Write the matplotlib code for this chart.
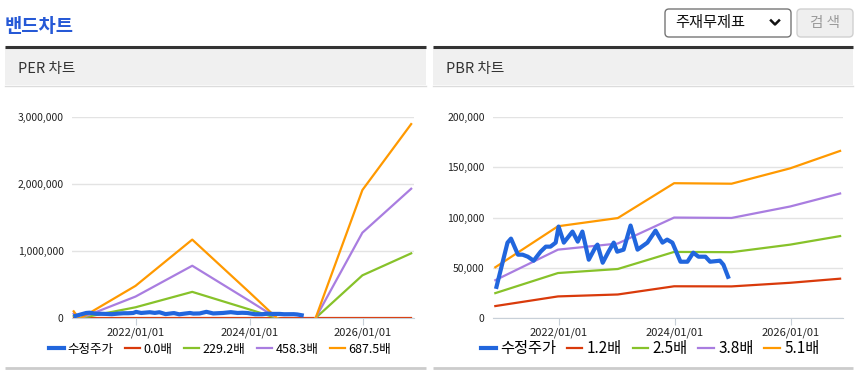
import matplotlib.pyplot as plt
from matplotlib.patches import Rectangle, FancyBboxPatch
from matplotlib.ticker import FuncFormatter

plt.rcParams['font.family'] = ['Noto Sans CJK KR', 'DejaVu Sans']

# price series (decimal year, won)
price_t = [2020.93, 2021.12, 2021.18, 2021.30, 2021.38, 2021.47, 2021.57, 2021.69,
           2021.78, 2021.86, 2021.95, 2022.00, 2022.09, 2022.24, 2022.33, 2022.41,
           2022.52, 2022.64, 2022.67, 2022.76, 2022.86, 2022.95, 2023.01, 2023.12,
           2023.24, 2023.36, 2023.53, 2023.67, 2023.79, 2023.87, 2023.96, 2024.10,
           2024.22, 2024.32, 2024.41, 2024.53, 2024.61, 2024.78, 2024.84, 2024.92]
price = [31000, 75000, 79000, 63000, 63000, 61000, 57000, 66000,
         71000, 71000, 75000, 91000, 75000, 86000, 76000, 86000,
         58000, 71000, 73000, 55000, 66000, 75000, 66000, 68000,
         92000, 68000, 75000, 87000, 75000, 78000, 75000, 56000,
         56000, 65000, 61000, 61000, 56000, 57000, 53000, 41000]

# PER band: EPS per period and multiples
per_t = [2020.90, 2021.00, 2021.99, 2022.99, 2023.99, 2024.99, 2025.99, 2026.85]
eps = [145, -20, 698, 1702, 567, -590, 2778, 4210]
per_mult = [0.0, 229.2, 458.3, 687.5]

# PBR band: BPS per period and multiples
pbr_t = [2020.91, 2021.99, 2023.02, 2023.99, 2024.98, 2025.99, 2026.85]
bps = [9900, 17900, 19500, 26300, 26200, 29200, 32600]
pbr_mult = [1.2, 2.5, 3.8, 5.1]

band_colors = ['#d93a0b', '#87c22a', '#a97de0', '#ff9900']
price_color = '#2166dd'
year_ticks = [2022, 2024, 2026]
year_labels = ['2022/01/01', '2024/01/01', '2026/01/01']

W, H = 858, 373
fig = plt.figure(figsize=(W / 100, H / 100), dpi=100)

# page background drawn in pixel coordinates
bg = fig.add_axes([0, 0, 1, 1], zorder=0)
bg.set_xlim(0, W)
bg.set_ylim(H, 0)
bg.axis('off')

bg.text(5, 27, '밴드차트', fontsize=13.5, fontweight='bold', color='#2659d6', va='center')

for x0, x1, name in [(5, 426, 'PER 차트'), (433, 853, 'PBR 차트')]:
    bg.add_patch(Rectangle((x0, 47), x1 - x0, 38, facecolor='#f0f0f0', edgecolor='none'))
    bg.plot([x0, x1], [46.5, 46.5], color='#333333', lw=2.2, solid_capstyle='butt')
    bg.plot([x0, x1], [85.5, 85.5], color='#dcdcdc', lw=1)
    bg.plot([x0, x1], [368, 368], color='#cccccc', lw=2, solid_capstyle='butt')
    bg.text(x0 + 13, 69, name, fontsize=10.5, color='#333333', va='center')

# select box and button
bg.add_patch(FancyBboxPatch((665, 9), 126, 28, boxstyle='round,pad=0,rounding_size=4',
                            facecolor='white', edgecolor='#767676', lw=1))
bg.text(675, 23, '주재무제표', fontsize=11, color='#111111', va='center')
bg.plot([771, 775, 779], [20.5, 24.5, 20.5], color='#111111', lw=1.8)
bg.add_patch(FancyBboxPatch((797, 9), 56, 28, boxstyle='round,pad=0,rounding_size=4',
                            facecolor='#efefef', edgecolor='#d0d0d0', lw=1))
bg.text(825, 23, '검 색', fontsize=10.5, color='#9a9a9a', va='center', ha='center')


def style_axis(ax, ymax, step):
    ax.set_facecolor('none')
    ax.set_xlim(2020.87, 2026.90)
    ax.set_ylim(0, ymax)
    ax.set_yticks(range(0, ymax + 1, step))
    ax.yaxis.set_major_formatter(FuncFormatter(lambda v, p: f'{v:,.0f}'))
    ax.set_xticks(year_ticks)
    ax.set_xticklabels(year_labels)
    for s in ['top', 'right', 'left']:
        ax.spines[s].set_visible(False)
    ax.spines['bottom'].set_color('#c8d0d8')
    ax.grid(axis='y', color='#e3e3e3', lw=1)
    ax.set_axisbelow(True)
    ax.tick_params(axis='y', length=0, pad=6, labelsize=7.5, labelcolor='#222222')
    ax.tick_params(axis='x', length=5, color='#c8d0d8', pad=2, labelsize=8, labelcolor='#222222')


def draw_band(ax, t, base, mults, ymax, step, legend_x, legend_size, hl, cs):
    style_axis(ax, ymax, step)
    handles = []
    for m, c in zip(mults, band_colors):
        h, = ax.plot(t, [b * m for b in base], color=c, lw=1.6, label=f'{m:.1f}배')
        handles.append(h)
    hp, = ax.plot(price_t, price, color=price_color, lw=3, label='수정주가', zorder=5,
                  solid_joinstyle='round')
    ax.legend([hp] + handles, ['수정주가'] + [h.get_label() for h in handles],
              loc='center', bbox_to_anchor=(legend_x / W, 1 - 349 / H),
              bbox_transform=fig.transFigure, ncol=5, frameon=False,
              fontsize=legend_size, handlelength=hl, handletextpad=0.3,
              columnspacing=cs, borderpad=0)


ax1 = fig.add_axes([72 / W, 1 - 318 / H, (414 - 72) / W, (318 - 117) / H], zorder=1)
draw_band(ax1, per_t, eps, per_mult, 3000000, 1000000, 220, 9, 1.2, 0.9)

ax2 = fig.add_axes([493 / W, 1 - 318 / H, (843 - 493) / W, (318 - 117) / H], zorder=1)
draw_band(ax2, pbr_t, bps, pbr_mult, 200000, 50000, 650, 11, 1.0, 0.7)

fig.savefig('out.png', dpi=100)
